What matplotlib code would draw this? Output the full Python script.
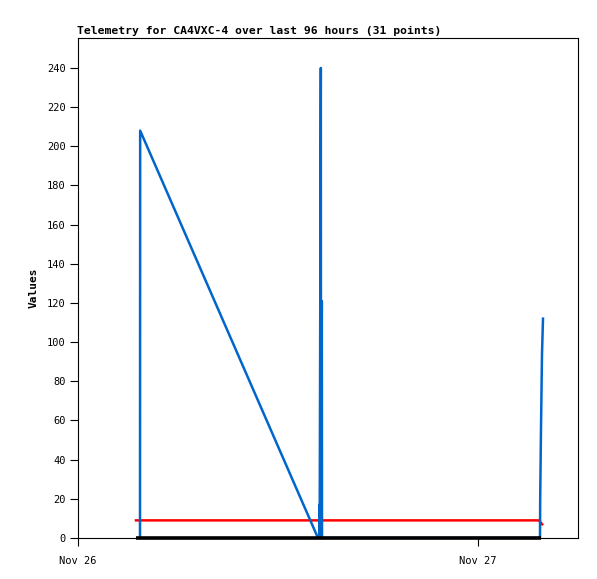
import matplotlib
matplotlib.use("Agg")
import matplotlib.pyplot as plt
import matplotlib.dates as mdates
from datetime import datetime, timedelta

base = datetime(2023, 11, 26)

# hours since Nov 26 00:00
blue_hours = [3.72, 3.73, 14.40, 14.48, 14.49, 14.50, 14.57, 14.58, 14.63, 14.64,
              27.72, 27.73, 27.78, 27.84, 27.90]
blue_values = [0, 208, 0, 0, 17, 0, 240, 0, 121, 0,
               0, 19, 56, 94, 112]

red_hours = [3.48, 27.66, 27.85]
red_values = [9, 9, 7]

black_hours = [3.48, 27.78]
black_values = [0, 0]

title = "Telemetry for CA4VXC-4 over last 96 hours (31 points)"
y_ticks = list(range(0, 241, 20))
x_tick_days = [26, 27]

def to_dt(hours):
    return [base + timedelta(hours=h) for h in hours]

fig = plt.figure(figsize=(5.97, 5.79), dpi=100)
ax = fig.add_axes([78/597, 41/579, 500/597, 500/579])

ax.plot(to_dt(red_hours), red_values, color="#ff0000", lw=1.8, zorder=3)
ax.plot(to_dt(blue_hours), blue_values, color="#0066cc", lw=1.8, zorder=4)
ax.plot(to_dt(black_hours), black_values, color="black", lw=2.6,
        solid_capstyle="butt", zorder=5, clip_on=False)

ax.set_xlim(base, base + timedelta(hours=30))
ax.set_ylim(0, 255.3)
ax.set_yticks(y_ticks)
ax.set_xticks([datetime(2023, 11, d) for d in x_tick_days])
ax.xaxis.set_major_formatter(mdates.DateFormatter("%b %d"))

mono = "DejaVu Sans Mono"
for lab in ax.get_xticklabels() + ax.get_yticklabels():
    lab.set_fontfamily(mono)
    lab.set_fontsize(7.5)
ax.tick_params(axis="both", direction="out", length=6, width=0.8, pad=3)
ax.tick_params(axis="x", pad=7)
for s in ax.spines.values():
    s.set_linewidth(0.8)

ax.set_ylabel("Values", fontfamily=mono, fontweight="bold", fontsize=8, labelpad=6)
fig.text(77/597, 1 - 31/579, title, fontfamily=mono, fontweight="bold",
         fontsize=8.2, ha="left", va="center")

fig.savefig("out.png", dpi=100)
